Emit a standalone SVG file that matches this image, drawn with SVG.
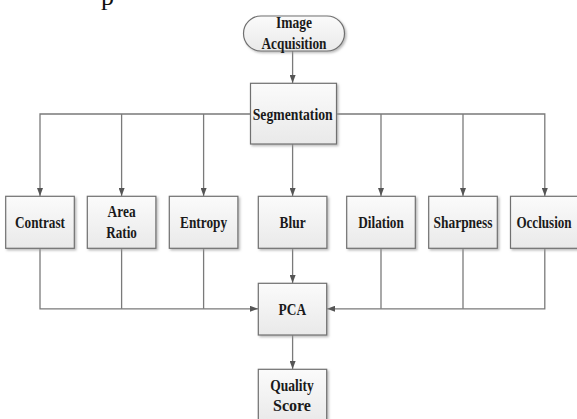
<svg xmlns="http://www.w3.org/2000/svg" width="577" height="419" viewBox="0 0 577 419">
<style>
.box{fill:url(#g);stroke:#707070;stroke-width:1.2;filter:url(#sh)}
.lbl{font-family:"Liberation Serif","Times New Roman",serif;font-weight:bold;font-size:17px;fill:#1a1a1a;text-anchor:middle}
.ln{fill:none;stroke:#7a7a7a;stroke-width:1.3}
.ar{marker-end:url(#ah)}
</style>
<defs>
<linearGradient id="g" x1="0" y1="0" x2="0" y2="1">
<stop offset="0" stop-color="#fbfbfb"/>
<stop offset="1" stop-color="#e9e9e9"/>
</linearGradient>
<filter id="sh" x="-10%" y="-10%" width="130%" height="130%">
<feDropShadow dx="1.5" dy="1.5" stdDeviation="1" flood-color="#9a9a9a" flood-opacity="0.7"/>
</filter>
<marker id="ah" viewBox="0 0 8 6" refX="8" refY="3" markerWidth="8" markerHeight="6" markerUnits="userSpaceOnUse" orient="auto">
<path d="M0,0 L8,3 L0,6 Z" fill="#555"/>
</marker>
</defs>
<rect width="577" height="419" fill="#ffffff"/>
<text x="101" y="5" font-family="Liberation Serif, serif" font-size="26" fill="#111">p</text>
<g id="connectors">
<path class="ln ar" d="M292.6,51 V83"/>
<path class="ln ar" d="M250.5,114 H40 V196"/>
<path class="ln ar" d="M121.6,114 V196"/>
<path class="ln ar" d="M203.6,114 V196"/>
<path class="ln ar" d="M336.5,114 H544.8 V196"/>
<path class="ln ar" d="M381,114 V196"/>
<path class="ln ar" d="M463,114 V196"/>
<path class="ln ar" d="M292.6,144 V196"/>
<path class="ln ar" d="M40,248.3 V308.8 H258"/>
<path class="ln" d="M121.6,248.3 V308.8"/>
<path class="ln" d="M203.6,248.3 V308.8"/>
<path class="ln ar" d="M292.6,248.3 V283"/>
<path class="ln ar" d="M544.8,248.3 V308.8 H327"/>
<path class="ln" d="M381,248.3 V308.8"/>
<path class="ln" d="M463,248.3 V308.8"/>
<path class="ln ar" d="M292.6,335 V369"/>
</g>
<g id="image-acquisition">
<rect class="box" x="243.5" y="16" width="101" height="35" rx="17.5"/>
<text class="lbl" x="294" y="28" textLength="36" lengthAdjust="spacingAndGlyphs">Image</text>
<text class="lbl" x="294" y="48.5" textLength="65" lengthAdjust="spacingAndGlyphs">Acquisition</text>
</g>
<g id="segmentation">
<rect class="box" x="250.5" y="83.3" width="86" height="60.7"/>
<text class="lbl" x="292.7" y="119.5" textLength="80" lengthAdjust="spacingAndGlyphs">Segmentation</text>
</g>
<g id="contrast">
<rect class="box" x="5.7" y="196.3" width="68.6" height="52"/>
<text class="lbl" x="40" y="228" textLength="50" lengthAdjust="spacingAndGlyphs">Contrast</text>
</g>
<g id="area-ratio">
<rect class="box" x="87.3" y="196.3" width="68.6" height="52"/>
<text class="lbl" x="121.6" y="216.5" textLength="28" lengthAdjust="spacingAndGlyphs">Area</text>
<text class="lbl" x="121.6" y="238" textLength="30.5" lengthAdjust="spacingAndGlyphs">Ratio</text>
</g>
<g id="entropy">
<rect class="box" x="169.3" y="196.3" width="68.6" height="52"/>
<text class="lbl" x="203.6" y="228" textLength="47" lengthAdjust="spacingAndGlyphs">Entropy</text>
</g>
<g id="blur">
<rect class="box" x="258.3" y="196.3" width="68.6" height="52"/>
<text class="lbl" x="292.6" y="228" textLength="26" lengthAdjust="spacingAndGlyphs">Blur</text>
</g>
<g id="dilation">
<rect class="box" x="346.7" y="196.3" width="68.6" height="52"/>
<text class="lbl" x="381" y="228" textLength="45.5" lengthAdjust="spacingAndGlyphs">Dilation</text>
</g>
<g id="sharpness">
<rect class="box" x="428.7" y="196.3" width="68.6" height="52"/>
<text class="lbl" x="463" y="228" textLength="59" lengthAdjust="spacingAndGlyphs">Sharpness</text>
</g>
<g id="occlusion">
<rect class="box" x="510.5" y="196.3" width="68.6" height="52"/>
<text class="lbl" transform="translate(544,228) scale(0.77,1)" x="0" y="0">Occlusion</text>
</g>
<g id="pca">
<rect class="box" x="258.3" y="283.3" width="68.4" height="51.7"/>
<text class="lbl" x="292.3" y="315" textLength="27.5" lengthAdjust="spacingAndGlyphs">PCA</text>
</g>
<g id="quality-score">
<rect class="box" x="258.3" y="369.3" width="68.4" height="54"/>
<text class="lbl" x="292" y="391" textLength="43.5" lengthAdjust="spacingAndGlyphs">Quality</text>
<text class="lbl" x="292" y="411" textLength="38" lengthAdjust="spacingAndGlyphs">Score</text>
</g>
</svg>
